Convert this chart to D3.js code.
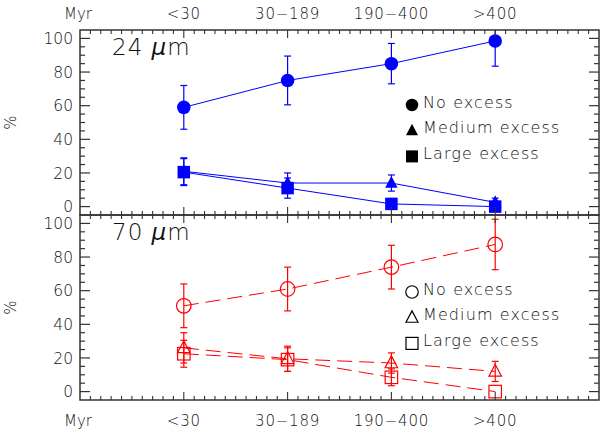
<!DOCTYPE html>
<html><head><meta charset="utf-8">
<script src="https://cdn.jsdelivr.net/npm/d3@7"></script>
<style>
body{margin:0;background:#fff;}
svg text{font-family:"DejaVu Sans",sans-serif;font-weight:200;fill:#111;}
</style></head>
<body><svg id="c" width="600" height="432"></svg>
<script>
const categories = ["<30", "30\u2212189", "190\u2212400", ">400"];
const catPos = [1, 2, 3, 4];
const yTicks = [0, 20, 40, 60, 80, 100];

// 24 micron panel
const no24 = [59, 75, 85, 98.5];
const no24Err = [13, 14.5, 12, 15];
const med24 = [21, 14, 14, 2.5];
const med24Err = [8, 6, 4.8, 2.5];
const large24 = [20.5, 11, 1.6, 0];
const large24Err = [8, 6, 1, 0.5];

// 70 micron panel
const no70 = [51, 61, 74, 87.5];
const no70Err = [13, 13, 13, 15];
const med70 = [26, 19.5, 17, 12];
const med70Err = [9, 7.5, 6, 6];
const large70 = [22.5, 19, 8.5, 0];
const large70Err = [8, 7, 5, 0];

const legendLabels = ["No excess", "Medium excess", "Large excess"];

const svg = d3.select("#c");
const L = 80, R = 599;
const x = d3.scaleLinear().domain([0, 5]).range([L, R]);

const panels = [
  {top: 30, bottom: 215, title: "24", color: "#0000ff", dash: null, filled: true,
   series: [[no24, no24Err, "circle"], [med24, med24Err, "triangle"], [large24, large24Err, "square"]],
   legendY: 105},
  {top: 215, bottom: 400, title: "70", color: "#ff0000", dash: "15,7", filled: false,
   series: [[no70, no70Err, "circle"], [med70, med70Err, "triangle"], [large70, large70Err, "square"]],
   legendY: 292}
];

function marker(g, type, cx, cy, color, filled, size) {
  const s = size;
  let el;
  if (type === "circle") {
    el = g.append("circle").attr("cx", cx).attr("cy", cy).attr("r", s * 0.52);
  } else if (type === "square") {
    el = g.append("rect").attr("x", cx - s / 2).attr("y", cy - s / 2).attr("width", s).attr("height", s);
  } else {
    const h = s * 0.95;
    el = g.append("path").attr("d", `M${cx},${cy - h * 0.6}L${cx + s / 2},${cy + h * 0.4}L${cx - s / 2},${cy + h * 0.4}Z`);
  }
  if (filled) el.attr("fill", color).attr("stroke", "none");
  else el.attr("fill", "none").attr("stroke", color).attr("stroke-width", 1.2);
}

panels.forEach((p, pi) => {
  const y = d3.scaleLinear().domain([-5, 105]).range([p.bottom, p.top]);
  const clipId = "clip" + pi;
  svg.append("clipPath").attr("id", clipId).append("rect")
    .attr("x", L).attr("y", p.top).attr("width", R - L).attr("height", p.bottom - p.top);
  const g = svg.append("g").attr("clip-path", `url(#${clipId})`);

  const line = d3.line().x((d, i) => x(catPos[i])).y(d => y(d));
  p.series.forEach(([vals, errs, type]) => {
    g.append("path").datum(vals).attr("d", line).attr("fill", "none")
      .attr("stroke", p.color).attr("stroke-width", 1)
      .attr("stroke-dasharray", p.dash);
    vals.forEach((v, i) => {
      const cx = x(catPos[i]);
      const e = errs[i];
      if (e > 0) {
        g.append("line").attr("x1", cx).attr("x2", cx).attr("y1", y(v - e)).attr("y2", y(v + e))
          .attr("stroke", p.color).attr("stroke-width", 1.2);
        [v - e, v + e].forEach(ev => {
          g.append("line").attr("x1", cx - 3.5).attr("x2", cx + 3.5).attr("y1", y(ev)).attr("y2", y(ev))
            .attr("stroke", p.color).attr("stroke-width", 1.2);
        });
      }
    });
  });
  p.series.forEach(([vals, errs, type]) => {
    vals.forEach((v, i) => {
      marker(g, type, x(catPos[i]), y(v), p.color, p.filled, type === "circle" ? (p.filled ? 13 : 14) : 12.5);
    });
  });

  // frame
  const ax = svg.append("g").attr("stroke", "#333");
  ax.append("rect").attr("x", L).attr("y", p.top).attr("width", R - L).attr("height", p.bottom - p.top)
    .attr("fill", "none").attr("stroke-width", 1.5);
  d3.range(0, 101, 5).forEach(t => {
    const len = t % 20 === 0 ? 10 : 5;
    ax.append("line").attr("x1", L).attr("x2", L + len).attr("y1", y(t)).attr("y2", y(t)).attr("stroke-width", 1.2);
    ax.append("line").attr("x1", R).attr("x2", R - len).attr("y1", y(t)).attr("y2", y(t)).attr("stroke-width", 1.2);
  });
  yTicks.forEach(t => {
    svg.append("text").attr("x", L - 7).attr("y", y(t)).attr("dy", "0.36em")
      .attr("text-anchor", "end").attr("font-size", 15.5).text(t);
  });
  d3.range(1, 50).forEach(k => {
    const t = k / 10;
    const len = k % 10 === 0 ? 8 : 4;
    ax.append("line").attr("x1", x(t)).attr("x2", x(t)).attr("y1", p.top).attr("y2", p.top + len).attr("stroke-width", 1.1);
    ax.append("line").attr("x1", x(t)).attr("x2", x(t)).attr("y1", p.bottom).attr("y2", p.bottom - len).attr("stroke-width", 1.1);
  });

  // y label
  svg.append("text").attr("transform", `translate(16,${(p.top + p.bottom) / 2}) rotate(-90)`)
    .attr("text-anchor", "middle").attr("font-size", 15).text("%");

  // title
  const tt = svg.append("text").attr("x", 112).attr("y", p.top + 25).attr("font-size", 23)
    .attr("letter-spacing", 1);
  tt.append("tspan").text(p.title + " ");
  tt.append("tspan").attr("font-style", "italic").text("\u03bc");
  tt.append("tspan").text("m");

  // legend
  p.series.forEach(([vals, errs, type], i) => {
    const ly = p.legendY + i * 25.7;
    marker(svg, type, 412, ly, "#000", p.filled, 12);
    svg.append("text").attr("x", 423).attr("y", ly - 3).attr("dy", "0.36em")
      .attr("font-size", 16).attr("letter-spacing", 1.1).text(legendLabels[i]);
  });
});

[19, 426].forEach(by => {
  svg.append("text").attr("x", 78).attr("y", by).attr("text-anchor", "middle").attr("font-size", 15).text("Myr");
  categories.forEach((c, i) => {
    svg.append("text").attr("x", x(catPos[i])).attr("y", by).attr("text-anchor", "middle")
      .attr("font-size", 15).attr("letter-spacing", 0.8).text(c);
  });
});
</script></body></html>
